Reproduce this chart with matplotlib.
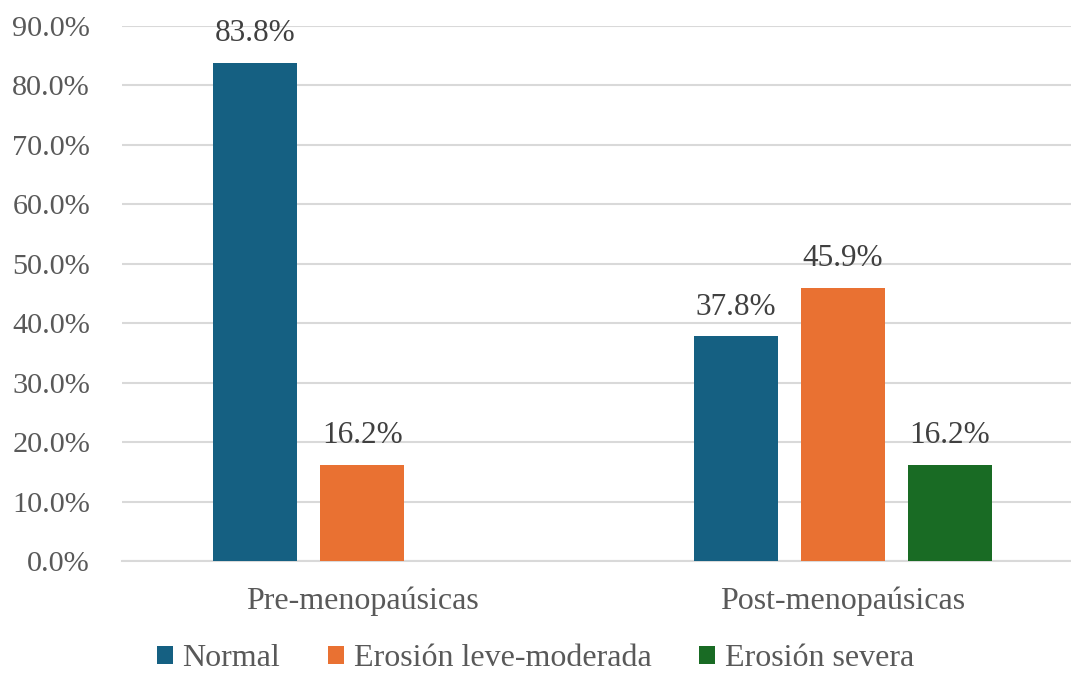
import numpy as np
import matplotlib
matplotlib.use('Agg')
import matplotlib.pyplot as plt
from matplotlib.ticker import FuncFormatter

# Data
groups = ['Pre-menopaúsicas', 'Post-menopaúsicas']
series = ['Normal', 'Erosión leve-moderada', 'Erosión severa']
normal = [83.8, 37.8]
leve_moderada = [16.2, 45.9]
severa = [np.nan, 16.2]
colors = ['#156082', '#E97132', '#196B24']

plt.rcParams['font.family'] = ['Liberation Serif', 'DejaVu Serif']
text_grey = '#595959'

fig = plt.figure(figsize=(10.71, 6.73), dpi=100)
ax = fig.add_axes([122 / 1071, 112 / 673, 1 - 122 / 1071, (561 - 25.7) / 673])

x = np.arange(len(groups))
width = 0.175
step = 0.2225

# Bars, with value labels on top
for i, (vals, name, col) in enumerate(zip([normal, leve_moderada, severa], series, colors)):
    xs = x + (i - 1) * step
    ax.bar(xs, vals, width, color=col, label=name, zorder=3)
    for xi, v in zip(xs, vals):
        if np.isnan(v):
            continue
        ax.annotate(f'{v:.1f}%', (xi, v), xytext=(0, 10.5), textcoords='offset points',
                    ha='center', va='bottom', fontsize=22.5, color='#404040')

ax.set_ylim(0, 90)
ax.set_yticks(np.arange(0, 91, 10))
ax.yaxis.set_major_formatter(FuncFormatter(lambda v, p: f'{v:.1f}%'))
ax.set_xlim(-0.5, 1.5 - 12.5 / 481)
ax.set_xticks(x)
ax.set_xticklabels(groups)

ax.grid(axis='y', color='#d9d9d9', linewidth=1.5, zorder=0)
for side in ['top', 'right', 'left']:
    ax.spines[side].set_visible(False)
ax.spines['bottom'].set_color('#d9d9d9')
ax.spines['bottom'].set_linewidth(1.5)
ax.tick_params(axis='both', length=0, colors=text_grey)
ax.tick_params(axis='y', pad=23, labelsize=21.8)
ax.tick_params(axis='x', pad=18, labelsize=23)

fig.legend(loc='center', bbox_to_anchor=(0.5, 1 - 659 / 673), ncol=3, frameon=False,
           fontsize=23, labelcolor=text_grey, handlelength=0.5, handleheight=0.5,
           handletextpad=0.3, columnspacing=1.5)

fig.savefig('out.png', dpi=100)
